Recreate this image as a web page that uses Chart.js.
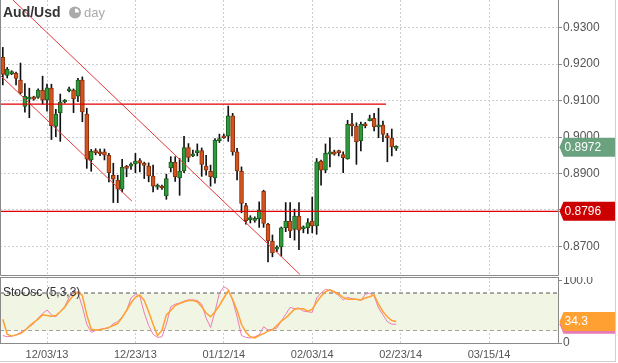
<!DOCTYPE html>
<html><head><meta charset="utf-8">
<script src="https://cdn.jsdelivr.net/npm/chart.js@4/dist/chart.umd.min.js"></script>
<style>
html,body{margin:0;padding:0;background:#fff;width:618px;height:363px;overflow:hidden;}
#c1{position:absolute;left:0;top:0;}
#c2{position:absolute;left:0;top:277px;}
#frame{position:absolute;left:0;top:0;width:615px;height:361px;border-right:1px solid #d0d0d0;border-bottom:1px solid #d0d0d0;pointer-events:none;}
</style></head><body>
<canvas id="c1" width="618" height="276"></canvas>
<canvas id="c2" width="618" height="86"></canvas>
<div id="frame"></div>
<script>
// ---- data ----
const candleOpen  = [0.9219,0.9169,0.9174,0.9175,0.9156,0.9084,0.9104,0.9110,0.9109,0.9128,
  0.9102,0.9134,0.9029,0.9067,0.9096,0.9127,0.9129,0.9112,0.9156,0.9063,
  0.8937,0.8962,0.8959,0.8959,0.8950,0.8895,0.8882,0.8857,0.8918,0.8920,
  0.8926,0.8935,0.8926,0.8920,0.8893,0.8862,0.8864,0.8838,0.8915,0.8931,
  0.8888,0.8907,0.8971,0.8948,0.8957,0.8963,0.8920,0.8906,0.8888,0.8990,
  0.9002,0.9002,0.9058,0.8959,0.8906,0.8812,0.8773,0.8771,0.8776,0.8851,
  0.8760,0.8714,0.8692,0.8698,0.8751,0.8769,0.8746,0.8783,0.8748,0.8751,
  0.8769,0.8756,0.8934,0.8909,0.8953,0.8959,0.8961,0.8952,0.8940,0.9035,
  0.9030,0.8990,0.9036,0.9045,0.9051,0.9028,0.9033,0.9004,0.8997,0.8969];
const candleHigh  = [0.9246,0.9191,0.9182,0.9178,0.9203,0.9147,0.9134,0.9112,0.9132,0.9167,
  0.9145,0.9145,0.9076,0.9118,0.9103,0.9137,0.9132,0.9161,0.9165,0.9079,
  0.8966,0.8968,0.8967,0.8967,0.8955,0.8928,0.8895,0.8939,0.8922,0.8929,
  0.8955,0.8941,0.8931,0.8929,0.8923,0.8871,0.8868,0.8898,0.8946,0.8946,
  0.8941,0.9002,0.8982,0.8964,0.8981,0.8970,0.8950,0.8923,0.8996,0.9008,
  0.9008,0.9085,0.9065,0.8969,0.8918,0.8818,0.8784,0.8781,0.8822,0.8854,
  0.8763,0.8731,0.8701,0.8753,0.8820,0.8820,0.8802,0.8820,0.8756,0.8776,
  0.8835,0.8941,0.8937,0.8981,0.8998,0.8964,0.8964,0.8959,0.9046,0.9065,
  0.9039,0.9041,0.9040,0.9060,0.9065,0.9079,0.9044,0.9010,0.9022,0.8976];
const candleLow   = [0.9143,0.9162,0.9171,0.9143,0.9118,0.9068,0.9053,0.9101,0.9106,0.9090,
  0.9071,0.8993,0.9001,0.8988,0.9093,0.9124,0.9067,0.9097,0.9042,0.8914,
  0.8906,0.8951,0.8949,0.8937,0.8877,0.8820,0.8820,0.8849,0.8891,0.8911,
  0.8902,0.8904,0.8886,0.8877,0.8849,0.8856,0.8856,0.8829,0.8904,0.8878,
  0.8840,0.8902,0.8932,0.8946,0.8948,0.8892,0.8895,0.8865,0.8873,0.8985,
  0.8996,0.8988,0.8950,0.8882,0.8792,0.8761,0.8764,0.8766,0.8752,0.8752,
  0.8657,0.8671,0.8685,0.8673,0.8740,0.8724,0.8717,0.8691,0.8737,0.8735,
  0.8737,0.8733,0.8868,0.8902,0.8918,0.8950,0.8948,0.8902,0.8939,0.9003,
  0.8925,0.8962,0.9025,0.9044,0.9017,0.8998,0.8987,0.8932,0.8948,0.8963];
const candleClose = [0.9172,0.9186,0.9178,0.9161,0.9121,0.9112,0.9109,0.9104,0.9129,0.9102,
  0.9135,0.9031,0.9063,0.9096,0.9101,0.9132,0.9105,0.9156,0.9069,0.8939,
  0.8961,0.8957,0.8954,0.8950,0.8902,0.8884,0.8857,0.8917,0.8914,0.8925,
  0.8934,0.8928,0.8922,0.8893,0.8865,0.8867,0.8860,0.8886,0.8931,0.8891,
  0.8906,0.8971,0.8944,0.8953,0.8963,0.8925,0.8909,0.8891,0.8991,0.8994,
  0.8998,0.9058,0.8959,0.8907,0.8818,0.8770,0.8778,0.8775,0.8799,0.8763,
  0.8715,0.8682,0.8698,0.8751,0.8769,0.8742,0.8783,0.8744,0.8753,0.8765,
  0.8756,0.8932,0.8909,0.8955,0.8959,0.8953,0.8957,0.8943,0.9035,0.9031,
  0.8987,0.9035,0.9031,0.9050,0.9028,0.9033,0.9007,0.8998,0.8973,0.8972];
const stochK = [12,10,11,13,17,21,26,31,40,47,
  53,45,42,50,58,73,84,80,58,30,
  17,20,22,23,24,31,34,42,52,72,
  78,75,48,28,14,9,10,30,58,62,
  64,67,69,69,68,62,40,25,50,80,
  90,86,68,42,12,9,8,10,13,26,
  21,22,24,35,46,57,55,56,51,50,
  49,72,80,86,84,81,76,69,73,71,
  70,68,78,80,75,56,45,34,30,30];
const stochD = [38,14,11,13,15,20,27,33,38,45,
  44,43,44,50,57,68,76,82,76,45,
  22,21,21,23,25,28,31,41,52,64,
  73,77,68,50,30,12,20,45,52,60,
  63,66,68,68,66,58,48,42,50,60,
  72,84,70,52,30,17,10,8,12,15,
  19,21,28,35,40,47,54,55,55,51,
  54,65,75,82,85,82,78,73,70,70,
  70,69,72,74,77,62,50,42,36,34.3];
const dateTickPos = [10,30,50,70,90,110];
const dateLabels  = ['12/03/13','12/23/13','01/12/14','02/03/14','02/23/14','03/15/14'];
const priceTicks  = [0.87,0.88,0.89,0.90,0.91,0.92,0.93];
const resistanceLevel = [0.9090];
const resistanceSpan  = [-0.633, 86.7];
const supportLevel    = [0.8796];
const trendUpper = [[2.3,0.9376],[67.2,0.8623]];
const trendLower = [[-0.63,0.9170],[29.2,0.8824]];
const oscLevels = [20,80];
const oscTicks  = [0,100];

// ---- layout constants ----
const X_MIN = -0.633, X_MAX = 125.6;
const P_MIN = 0.86212, P_MAX = 0.93761;
const FONT = 'Liberation Sans, Arial, sans-serif';

const idx = candleOpen.map((_, i) => i);
const bull = idx.map(i => candleClose[i] >= candleOpen[i]);

function drawTag(ctx, x, y, color, text, right) {
  const h = 19;
  ctx.save();
  ctx.fillStyle = color;
  ctx.beginPath();
  ctx.moveTo(x, y);
  ctx.lineTo(x + 4, y - h / 2);
  ctx.lineTo(right, y - h / 2);
  ctx.lineTo(right, y + h / 2);
  ctx.lineTo(x + 4, y + h / 2);
  ctx.closePath();
  ctx.fill();
  ctx.fillStyle = '#fff';
  ctx.font = '12px ' + FONT;
  ctx.textBaseline = 'middle';
  ctx.textAlign = 'left';
  ctx.fillText(text, x + 5, y + 0.5);
  ctx.restore();
}

const mainOverlay = {
  id: 'mainOverlay',
  afterDraw(chart) {
    const {ctx, chartArea: a, scales} = chart;
    ctx.save();
    ctx.strokeStyle = '#8a8a8a';
    ctx.lineWidth = 1;
    ctx.beginPath();
    ctx.moveTo(0.5, 0); ctx.lineTo(0.5, a.bottom + 0.5);
    ctx.lineTo(a.right + 0.5, a.bottom + 0.5);
    ctx.lineTo(a.right + 0.5, 0);
    ctx.stroke();
    // title
    ctx.fillStyle = '#333';
    ctx.font = 'bold 14px ' + FONT;
    ctx.textBaseline = 'alphabetic';
    ctx.fillText('Aud/Usd', 3, 17);
    // clock icon
    ctx.fillStyle = '#aaa';
    ctx.beginPath(); ctx.arc(75, 12.5, 6, 0, Math.PI * 2); ctx.fill();
    ctx.fillStyle = '#fff';
    ctx.beginPath(); ctx.moveTo(75, 12.5); ctx.arc(75, 12.5, 4, -Math.PI / 2, 0); ctx.closePath(); ctx.fill();
    ctx.fillStyle = '#aaa';
    ctx.font = '13px ' + FONT;
    ctx.fillText('day', 84, 17);
    ctx.restore();
    const y = scales.y;
    const last = candleClose[candleClose.length - 1];
    drawTag(ctx, a.right + 1.5, y.getPixelForValue(last), '#6aa17f', last.toFixed(4), 615);
    drawTag(ctx, a.right + 1.5, y.getPixelForValue(supportLevel[0]), '#cc0000', supportLevel[0].toFixed(4), 615);
  }
};

const oscOverlay = {
  id: 'oscOverlay',
  afterDraw(chart) {
    const {ctx, chartArea: a, scales} = chart;
    ctx.save();
    ctx.strokeStyle = '#8a8a8a';
    ctx.lineWidth = 1;
    ctx.strokeRect(0.5, a.top + 0.5, a.right, a.bottom - a.top);
    ctx.fillStyle = '#333';
    ctx.font = '12px ' + FONT;
    ctx.textBaseline = 'alphabetic';
    ctx.fillText('StoOsc (5,3,3)', 3, 19);
    ctx.restore();
    const y = scales.y;
    const k = stochK[stochK.length - 1], d = stochD[stochD.length - 1];
    drawTag(ctx, a.right + 1.5, y.getPixelForValue(k), '#e879b4', k.toFixed(1), 615);
    drawTag(ctx, a.right + 1.5, y.getPixelForValue(d), '#ffa033', d.toFixed(1), 615);
  }
};

const gridColor = '#cdcdcd';

new Chart(document.getElementById('c1'), {
  type: 'bar',
  data: { datasets: [
    { type: 'line', data: [{x: resistanceSpan[0], y: resistanceLevel[0]}, {x: resistanceSpan[1], y: resistanceLevel[0]}],
      borderColor: '#e00000', borderWidth: 1.2, pointRadius: 0, order: 0 },
    { type: 'line', data: [{x: X_MIN, y: supportLevel[0]}, {x: X_MAX, y: supportLevel[0]}],
      borderColor: '#e00000', borderWidth: 1.2, pointRadius: 0, order: 0 },
    { type: 'line', data: trendUpper.map(p => ({x: p[0], y: p[1]})),
      borderColor: '#e23a3a', borderWidth: 1, pointRadius: 0, order: 0 },
    { type: 'line', data: trendLower.map(p => ({x: p[0], y: p[1]})),
      borderColor: '#e23a3a', borderWidth: 1, pointRadius: 0, order: 0 },
    { data: idx.map(i => ({x: i, y: [candleOpen[i], candleClose[i]]})),
      backgroundColor: idx.map(i => bull[i] ? '#2f9a3c' : '#d2541f'),
      borderColor: idx.map(i => bull[i] ? '#1b5e20' : '#8f300c'),
      borderWidth: 1, borderSkipped: false, barThickness: 4, minBarLength: 2, grouped: false, order: 1 },
    { data: idx.map(i => ({x: i, y: [candleLow[i], candleHigh[i]]})),
      backgroundColor: '#111', borderWidth: 0, barThickness: 1, grouped: false, order: 2 }
  ]},
  options: {
    responsive: false, animation: false, devicePixelRatio: 1,
    layout: {padding: {left: 0, right: 0, top: 0, bottom: 1}},
    plugins: {legend: {display: false}, tooltip: {enabled: false}},
    scales: {
      x: { type: 'linear', min: X_MIN, max: X_MAX, offset: false,
        afterBuildTicks: s => { s.ticks = dateTickPos.map(v => ({value: v})); },
        afterFit: s => { s.height = 0; s.paddingLeft = 0; s.paddingRight = 0; },
        ticks: {display: false},
        grid: {color: gridColor, drawTicks: false, offset: false},
        border: {display: false, dash: [2, 2]} },
      y: { position: 'right', min: P_MIN, max: P_MAX,
        afterBuildTicks: s => { s.ticks = priceTicks.map(v => ({value: v})); },
        afterFit: s => { s.width = 60; s.paddingTop = 0; s.paddingBottom = 0; },
        ticks: {callback: v => v.toFixed(4), color: '#555', font: {family: FONT, size: 12}, padding: 1},
        grid: {color: gridColor, tickColor: '#888', tickLength: 4, tickBorderDash: []},
        border: {display: false, dash: [2, 2]} }
    }
  },
  plugins: [mainOverlay]
});

new Chart(document.getElementById('c2'), {
  type: 'line',
  data: { datasets: [
    { data: stochD.map((v, i) => ({x: i, y: v})), borderColor: '#ffa033', borderWidth: 1.5, pointRadius: 0, tension: 0, order: 1 },
    { data: stochK.map((v, i) => ({x: i, y: v})), borderColor: '#ec7db6', borderWidth: 1, pointRadius: 0, tension: 0, order: 2 },
    { data: [{x: X_MIN, y: oscLevels[1]}, {x: X_MAX, y: oscLevels[1]}], borderColor: '#555', borderDash: [4, 3], borderWidth: 1,
      pointRadius: 0, fill: '+1', backgroundColor: '#f1f5e3', order: 3 },
    { data: [{x: X_MIN, y: oscLevels[0]}, {x: X_MAX, y: oscLevels[0]}], borderColor: '#555', borderDash: [4, 3], borderWidth: 1,
      pointRadius: 0, fill: false, order: 3 }
  ]},
  options: {
    responsive: false, animation: false, devicePixelRatio: 1,
    layout: {padding: 0},
    plugins: {legend: {display: false}, tooltip: {enabled: false}},
    scales: {
      x: { type: 'linear', min: X_MIN, max: X_MAX, offset: false,
        afterBuildTicks: s => { s.ticks = dateTickPos.map(v => ({value: v})); },
        afterFit: s => { s.height = 20; s.paddingLeft = 0; s.paddingRight = 0; },
        ticks: {callback: (v, i) => dateLabels[i], color: '#555', font: {family: FONT, size: 11}, padding: 5, maxRotation: 0, autoSkip: false},
        grid: {color: gridColor, drawTicks: false},
        border: {display: false, dash: [2, 2]} },
      y: { position: 'right', min: 0, max: 105.6,
        afterBuildTicks: s => { s.ticks = oscTicks.map(v => ({value: v})); },
        afterFit: s => { s.width = 60; s.paddingTop = 0; s.paddingBottom = 0; },
        ticks: {callback: v => v === 100 ? '100.0' : String(v), color: '#555', font: {family: FONT, size: 12}, padding: 1},
        grid: {drawOnChartArea: false, tickColor: '#888', tickLength: 4},
        border: {display: false} }
    }
  },
  plugins: [oscOverlay]
});
</script>
</body></html>
